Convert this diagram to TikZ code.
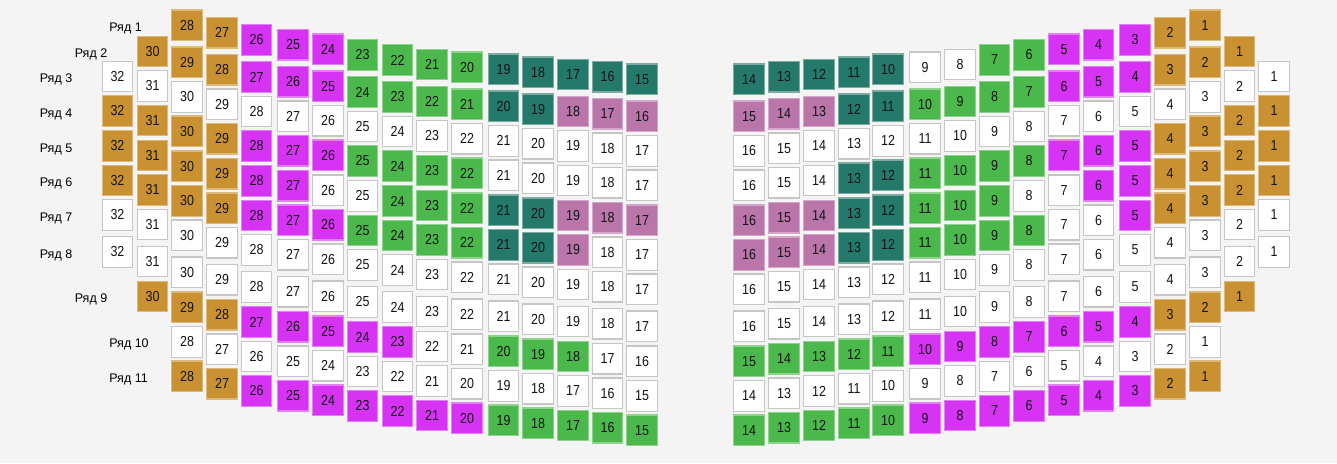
\documentclass[tikz,border=0pt]{standalone}
\usepackage{fontspec}
\setmainfont{Liberation Sans}
\newfontfamily\seatfont[FakeStretch=0.86]{Liberation Sans}

\definecolor{bgcol}{HTML}{F4F4F4}
\definecolor{seatfillw}{HTML}{FFFFFF}\definecolor{seatdraww}{HTML}{C6C6C6}
\definecolor{seatfilla}{HTML}{C99132}\definecolor{seatdrawa}{HTML}{DDBA7C}
\definecolor{seatfillm}{HTML}{D633F5}\definecolor{seatdrawm}{HTML}{E480F7}
\definecolor{seatfillg}{HTML}{4BB84B}\definecolor{seatdrawg}{HTML}{8ED28E}
\definecolor{seatfillt}{HTML}{25796A}\definecolor{seatdrawt}{HTML}{7DAAA1}
\definecolor{seatfillp}{HTML}{BA75AA}\definecolor{seatdrawp}{HTML}{D4A6CA}

\tikzset{
  seat/.style={draw, line width=1.2pt, minimum width=30.6pt, minimum height=30.6pt,
    inner sep=0pt, font=\seatfont\fontsize{14.5}{14.5}\selectfont, text=black!92},
  rowlab/.style={anchor=base west, inner sep=0pt, font=\fontsize{12.5}{13}\selectfont},
}

\begin{document}
\begin{tikzpicture}[x=1pt, y=-1pt]
    % фон
    \fill[bgcol] (0,0) rectangle (1337,463);

    % смещения рядов по вертикали
    \def\rowys{{0,37,71.5,106,141,175.5,210,247,282,316.5,351}}

    % места: x столбца / сдвиг дуги / первый ряд / {номер/цвет,...}
    \foreach \cx/\cy/\r/\lst [count=\c] in {
        117.5/5/3/{32/w,32/a,32/a,32/a,32/w,32/w},
        152.5/14.5/2/{30/a,31/w,31/a,31/a,31/a,31/w,31/w,30/a},
        187/25.3/1/{28/a,29/a,30/w,30/a,30/a,30/a,30/w,30/w,29/a,28/w,28/a},
        222/32.7/1/{27/a,28/a,29/w,29/a,29/a,29/a,29/w,29/w,28/a,27/w,27/a},
        256.5/40/1/{26/m,27/m,28/w,28/m,28/m,28/m,28/w,28/w,27/m,26/w,26/m},
        293/44.7/1/{25/m,26/m,27/w,27/m,27/m,27/m,27/w,27/w,26/m,25/w,25/m},
        328/49.2/1/{24/m,25/m,26/w,26/m,26/w,26/m,26/w,26/w,25/m,24/w,24/m},
        362.5/55/1/{23/g,24/g,25/w,25/g,25/w,25/g,25/w,25/w,24/m,23/w,23/m},
        397.5/60/1/{22/g,23/g,24/w,24/g,24/g,24/g,24/w,24/w,23/m,22/w,22/m},
        432/64.5/1/{21/g,22/g,23/w,23/g,23/g,23/g,23/w,23/w,22/w,21/w,21/m},
        467/67.2/1/{20/g,21/g,22/w,22/g,22/g,22/g,22/w,22/w,21/w,20/w,20/m},
        503.5/69.3/1/{19/t,20/t,21/w,21/w,21/t,21/t,21/w,21/w,20/g,19/w,19/g},
        538/72.2/1/{18/t,19/t,20/w,20/w,20/t,20/t,20/w,20/w,19/g,18/w,18/g},
        573/74.5/1/{17/t,18/p,19/w,19/w,19/p,19/p,19/w,19/w,18/g,17/w,17/g},
        607.5/76.7/1/{16/t,17/p,18/w,18/w,18/p,18/w,18/w,18/w,17/w,16/w,16/g},
        642/79.3/1/{15/t,16/p,17/w,17/w,17/p,17/w,17/w,17/w,16/w,15/w,15/g},
        749/79.3/1/{14/t,15/p,16/w,16/w,16/p,16/p,16/w,16/w,15/g,14/w,14/g},
        784/76.7/1/{13/t,14/p,15/w,15/w,15/p,15/p,15/w,15/w,14/g,13/w,13/g},
        819/74.5/1/{12/t,13/p,14/w,14/w,14/p,14/p,14/w,14/w,13/g,12/w,12/g},
        854/72.2/1/{11/t,12/t,13/w,13/t,13/t,13/t,13/w,13/w,12/g,11/w,11/g},
        888/69.3/1/{10/t,11/t,12/w,12/t,12/t,12/t,12/w,12/w,11/g,10/w,10/g},
        925/67.2/1/{9/w,10/g,11/w,11/g,11/g,11/g,11/w,11/w,10/m,9/w,9/m},
        960/64.5/1/{8/w,9/g,10/w,10/g,10/g,10/g,10/w,10/w,9/m,8/w,8/m},
        994.5/60/1/{7/g,8/g,9/w,9/g,9/g,9/g,9/w,9/w,8/m,7/w,7/m},
        1029/55/1/{6/g,7/g,8/w,8/g,8/w,8/g,8/w,8/w,7/m,6/w,6/m},
        1064/49.2/1/{5/m,6/m,7/w,7/m,7/w,7/w,7/w,7/w,6/m,5/w,5/m},
        1098.5/44.7/1/{4/m,5/m,6/w,6/m,6/m,6/w,6/w,6/w,5/m,4/w,4/m},
        1135/40/1/{3/m,4/m,5/w,5/m,5/m,5/m,5/w,5/w,4/m,3/w,3/m},
        1170/32.7/1/{2/a,3/a,4/w,4/a,4/a,4/a,4/w,4/w,3/a,2/w,2/a},
        1205/25.3/1/{1/a,2/a,3/w,3/a,3/a,3/a,3/w,3/w,2/a,1/w,1/a},
        1239.5/14.5/2/{1/a,2/w,2/a,2/a,2/a,2/w,2/w,1/a},
        1274/5/3/{1/w,1/a,1/a,1/a,1/w,1/w}}
    {
        \foreach \n/\k [count=\i from \r] in \lst {
            \pgfmathsetmacro\yy{\cy+\rowys[\i-1]}
            \node[seat, fill=seatfill\k, draw=seatdraw\k] (s\c-\i) at (\cx,\yy) {\n};
        }
    }

    % подписи рядов
    \foreach \i/\c in {1/3, 2/2, 3/1, 4/1, 5/1, 6/1, 7/1, 8/1, 9/2, 10/3, 11/3}
        \node[rowlab] (lab\i) at ([xshift=-62pt, yshift=-6pt]s\c-\i.west) {Ряд \i};
\end{tikzpicture}
\end{document}
